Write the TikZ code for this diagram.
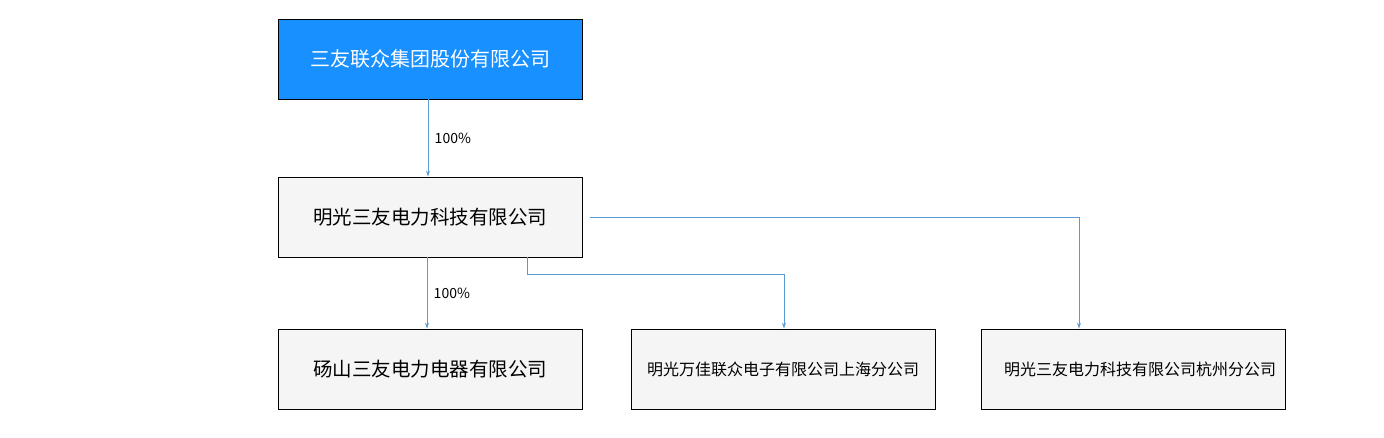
\documentclass[tikz,border=0pt]{standalone}
\usepackage{fontspec}
\setmainfont{Noto Sans CJK SC}
\usetikzlibrary{arrows.meta}

\definecolor{groupblue}{HTML}{1890FF}
\definecolor{boxgray}{HTML}{F5F5F5}
\definecolor{linkblue}{HTML}{5B9BD5}

\begin{document}
\begin{tikzpicture}[x=1pt, y=-1pt,
    company/.style={draw=black, line width=0.9pt, fill=boxgray, minimum width=304pt, minimum height=80pt, inner sep=0pt, font=\fontsize{19.5}{21}\selectfont},
    link/.style={linkblue, line width=0.8pt, -{Stealth[length=6pt, width=4pt]}},
    share/.style={text=black, font=\fontsize{14}{16}\selectfont, right=3pt}]
    \useasboundingbox (0,0) rectangle (1384,437);

    % Group and main subsidiary
    \node[company, fill=groupblue, text=white, font=\fontsize{20}{22}\selectfont] (group) at (430,59) {三友联众集团股份有限公司};
    \node[company] (tech) at (430,217) {明光三友电力科技有限公司};

    % Bottom row
    \node[company] (dangshan) at (430,369) {砀山三友电力电器有限公司};
    \node[company, font=\fontsize{16}{18}\selectfont] (shanghai) at (783,369) {明光万佳联众电子有限公司上海分公司};
    \node[company, font=\fontsize{16}{18}\selectfont] (hangzhou) at (1133,369) {\hspace*{14pt}明光三友电力科技有限公司杭州分公司};

    % Shareholding links
    \draw[link] ([xshift=-2pt]group.south) -- ([xshift=-2pt]tech.north) node[share, midway] (pctA) {100\%};
    \draw[link] ([xshift=-3pt]tech.south) -- ([xshift=-3pt]dangshan.north) node[share, midway] (pctB) {100\%};

    % Branch links
    \draw[link] ([xshift=97pt]tech.south) -- ++(0,17) -| ([xshift=1pt]shanghai.north);
    \draw[link] ([xshift=8pt]tech.east) -| ([xshift=-54pt]hangzhou.north);
\end{tikzpicture}
\end{document}
